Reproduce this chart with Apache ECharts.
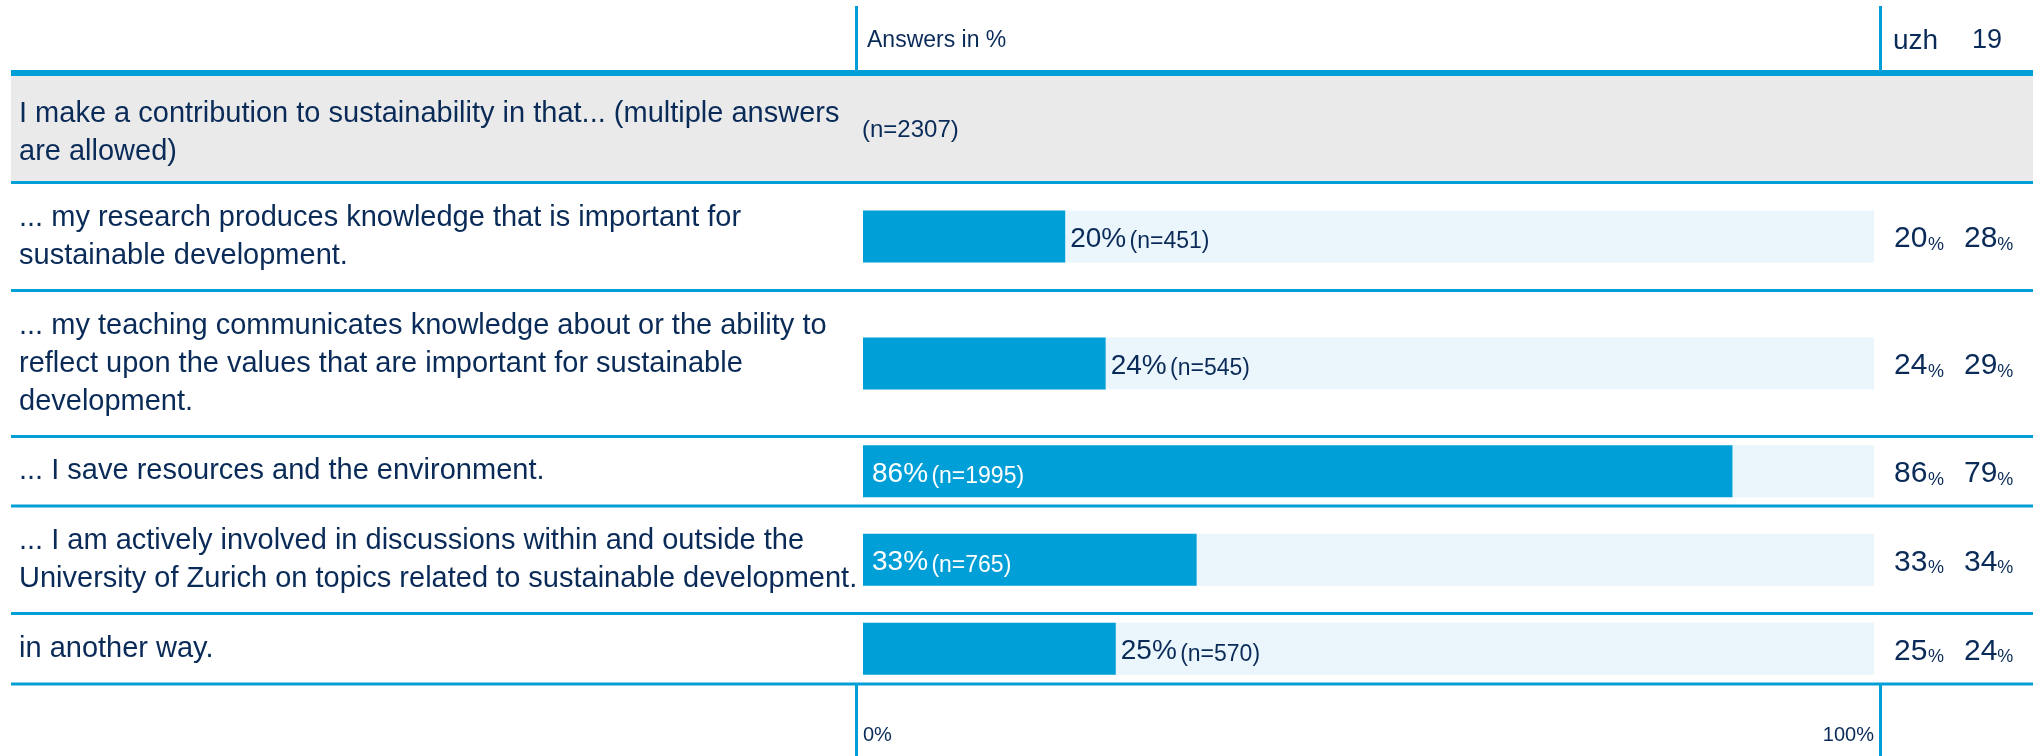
<!DOCTYPE html>
<html><head><meta charset="utf-8">
<script src="https://cdn.jsdelivr.net/npm/echarts@6/dist/echarts.min.js"></script>
<style>html,body{margin:0;padding:0;background:#fff}#c{width:2033px;height:756px}</style>
</head><body><div id="c"></div>
<script>
// ---------------- data ----------------
const question = "I make a contribution to sustainability in that... (multiple answers\nare allowed)";
const questionN = 2307;
const categories = [
  "... my research produces knowledge that is important for\nsustainable development.",
  "... my teaching communicates knowledge about or the ability to\nreflect upon the values that are important for sustainable\ndevelopment.",
  "... I save resources and the environment.",
  "... I am actively involved in discussions within and outside the\nUniversity of Zurich on topics related to sustainable development.",
  "in another way."
];
const percent = [20, 24, 86, 33, 25];
const counts = [451, 545, 1995, 765, 570];
const uzhValues = [20, 24, 86, 33, 25];
const y19Values = [28, 29, 79, 34, 24];
const headerLabel = "Answers in %";
const colHeaders = ["uzh", "19"];
const axisMin = 0, axisMax = 100;

// ---------------- style / layout ----------------
const FONT = "'Liberation Sans', Arial, sans-serif";
const NAVY = "#0a2b58";
const BLUE = "#019fd7";
const TRACK = "#eaf5fc";
const GRAY = "#eaeaea";
const seps = [182.5, 290.5, 436.5, 506, 613.5, 684]; // row separators
const plotLeft = 863, plotWidth = 1011;

const chart = echarts.init(document.getElementById('c'), null, {renderer: 'canvas'});

const grids = [], xAxes = [], yAxes = [], series = [];
categories.forEach((cat, i) => {
  grids.push({left: plotLeft, width: plotWidth, top: seps[i], height: seps[i+1] - seps[i],
              containLabel: false, outerBoundsMode: 'none'});
  const last = i === categories.length - 1;
  xAxes.push({
    gridIndex: i, type: 'value', min: axisMin, max: axisMax, interval: 100,
    show: last,
    axisLine: {show: false}, axisTick: {show: false}, splitLine: {show: false},
    axisLabel: {show: last, formatter: '{value}%', fontFamily: FONT, fontSize: 20, color: NAVY,
                margin: 41, alignMinLabel: 'left', alignMaxLabel: 'right'}
  });
  yAxes.push({
    gridIndex: i, type: 'category', data: [cat], position: 'left',
    axisLine: {show: false}, axisTick: {show: false}, splitLine: {show: false},
    axisLabel: {interval: 0, align: 'left', margin: plotLeft - 19, fontFamily: FONT,
                fontSize: 29, lineHeight: 38, color: NAVY, padding: [7, 0, 0, 0]}
  });
  yAxes.push({
    gridIndex: i, type: 'category', data: [cat], position: 'right',
    axisLine: {show: false}, axisTick: {show: false}, splitLine: {show: false},
    axisLabel: {interval: 0, align: 'left', margin: 20, padding: [5, 0, 0, 0],
      formatter: () => `{a1|${uzhValues[i]}}{b1|%}{g|}{a|${y19Values[i]}}{b|%}`,
      rich: {
        a1: {fontFamily: FONT, fontSize: 30, color: NAVY, width: 34, verticalAlign: 'bottom'},
        b1: {fontFamily: FONT, fontSize: 18, color: NAVY, width: 16, verticalAlign: 'bottom'},
        g: {width: 20},
        a: {fontFamily: FONT, fontSize: 30, color: NAVY, verticalAlign: 'bottom'},
        b: {fontFamily: FONT, fontSize: 18, color: NAVY, verticalAlign: 'bottom'}
      }}
  });
  const inside = percent[i] >= 30;
  series.push({
    type: 'bar', xAxisIndex: i, yAxisIndex: 2*i, barWidth: 52,
    data: [percent[i]],
    itemStyle: {color: BLUE},
    showBackground: true, backgroundStyle: {color: TRACK},
    animation: false,
    label: {
      show: true, position: inside ? 'insideLeft' : 'right', distance: inside ? 9 : 5,
      offset: [0, 3],
      formatter: `{v|${percent[i]}%} {n|(n=${counts[i]})}`,
      rich: {
        v: {fontFamily: FONT, fontSize: 28, color: inside ? '#fff' : NAVY, verticalAlign: 'bottom'},
        n: {fontFamily: FONT, fontSize: 23, color: inside ? '#fff' : NAVY, verticalAlign: 'bottom'}
      }
    }
  });
});

const graphics = [];
// gray question band
graphics.push({type: 'rect', shape: {x: 11, y: 76, width: 2022, height: 106}, style: {fill: GRAY}, z: -10});
// thick header line
graphics.push({type: 'rect', shape: {x: 11, y: 70, width: 2022, height: 6}, style: {fill: BLUE}, z: 10});
// row separators
seps.forEach(y => graphics.push({type: 'rect', shape: {x: 11, y: y - 1.5, width: 2022, height: 3}, style: {fill: BLUE}, z: 10}));
// vertical lines top & bottom
[855, 1879].forEach(x => {
  graphics.push({type: 'rect', shape: {x: x, y: 6, width: 3, height: 64}, style: {fill: BLUE}, z: 10});
  graphics.push({type: 'rect', shape: {x: x, y: 684, width: 3, height: 72}, style: {fill: BLUE}, z: 10});
});
// texts
graphics.push({type: 'text', x: 19, y: 133, style: {text: question, font: `29px ${FONT}`, lineHeight: 38, fill: NAVY, verticalAlign: 'middle'}, z: 11});
graphics.push({type: 'text', x: 862, y: 130, style: {text: `(n=${questionN})`, font: `24px ${FONT}`, fill: NAVY, verticalAlign: 'middle'}, z: 11});
graphics.push({type: 'text', x: 867, y: 41, style: {text: headerLabel, font: `23px ${FONT}`, fill: NAVY, verticalAlign: 'middle'}, z: 11});
graphics.push({type: 'text', x: 1893, y: 41, style: {text: colHeaders[0], font: `28px ${FONT}`, fill: NAVY, verticalAlign: 'middle'}, z: 11});
graphics.push({type: 'text', x: 1972, y: 41, style: {text: colHeaders[1], font: `27px ${FONT}`, fill: NAVY, verticalAlign: 'middle'}, z: 11});

chart.setOption({
  animation: false,
  backgroundColor: '#fff',
  grid: grids, xAxis: xAxes, yAxis: yAxes, series: series,
  graphic: graphics
});
</script></body></html>
